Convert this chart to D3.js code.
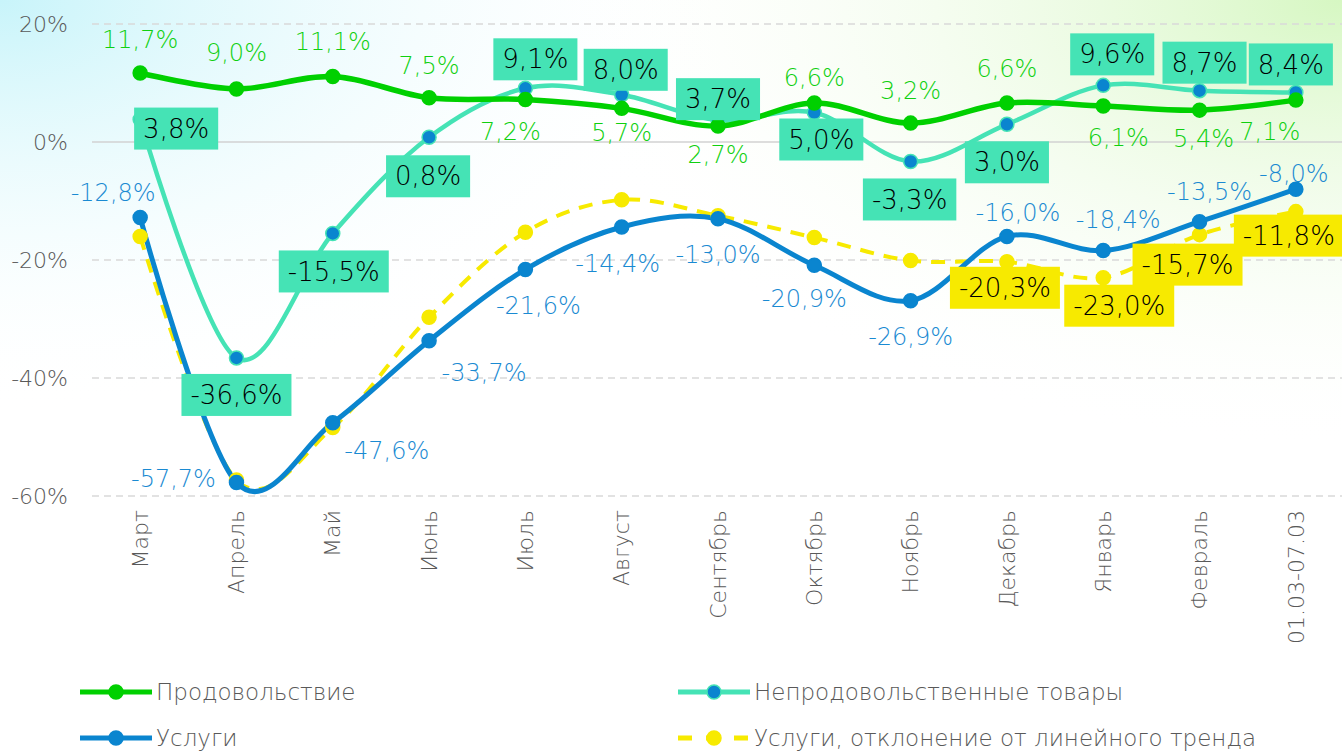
<!DOCTYPE html>
<html>
<head>
<meta charset="utf-8">
<script src="https://cdn.jsdelivr.net/npm/d3@7"></script>
<style>
  html, body { margin: 0; padding: 0; background: #fff; }
  svg { display: block; font-family: "DejaVu Sans", sans-serif; font-weight: 200; }
</style>
</head>
<body>
<div id="chart"></div>
<script>
const categories = ['Март', 'Апрель', 'Май', 'Июнь', 'Июль', 'Август', 'Сентябрь', 'Октябрь', 'Ноябрь', 'Декабрь', 'Январь', 'Февраль', '01.03-07.03'];
const food = [11.7, 9.0, 11.1, 7.5, 7.2, 5.7, 2.7, 6.6, 3.2, 6.6, 6.1, 5.4, 7.1];
const nonFood = [3.8, -36.6, -15.5, 0.8, 9.1, 8.0, 3.7, 5.0, -3.3, 3.0, 9.6, 8.7, 8.4];
const services = [-12.8, -57.7, -47.6, -33.7, -21.6, -14.4, -13.0, -20.9, -26.9, -16.0, -18.4, -13.5, -8.0];
const servicesTrend = [-16.0, -57.3, -48.4, -29.7, -15.3, -9.8, -12.5, -16.2, -20.1, -20.3, -23.0, -15.7, -11.8];
const yTicks = [20, 0, -20, -40, -60];

// label offsets (dx, dy of label centre from its point)
const foodLabelPos = [[0,-33],[0,-36],[0,-35],[0,-32],[-15,32],[0,24],[0,29],[0,-25],[0,-33],[0,-34],[15,32],[4,28],[-26,31]];
const nonFoodLabelPos = [[36,9],[0,37],[1,38],[-1,39],[10,-29],[4,-25],[0,-21],[7,27],[-1,38],[0,38],[9,-31],[5,-28],[-5,-28]];
const servicesLabelPos = [[-27,-25],[-63,-4],[54,28],[55,32],[13,36],[-4,37],[0,36],[-10,33],[0,36],[11,-24],[15,-31],[10,-30],[-2,-16]];
const trendLabelPos = [null,null,null,null,null,null,null,null,null,[-2,26],[16,28],[-12,30],[-7,24]];

const GREEN = '#00d000';
const TEAL = '#45e3b5';
const BLUE = '#0a85cf';
const YELLOW = '#f7ea00';
const GRAY = '#595959';

const width = 1342;
const height = 751;
const margin = { left: 92, right: 0, top: 24, bottom: 255 };

const svg = d3.select('#chart')
  .append('svg')
  .attr('width', width)
  .attr('height', height);

// background tint
const defs = svg.append('defs');
const g1 = defs.append('radialGradient').attr('id', 'bgCyan')
  .attr('cx', 0).attr('cy', 0).attr('r', 0.55);
g1.append('stop').attr('offset', 0).attr('stop-color', '#c8f4fa');
g1.append('stop').attr('offset', 1).attr('stop-color', '#ffffff').attr('stop-opacity', 0);
const g2 = defs.append('radialGradient').attr('id', 'bgGreen')
  .attr('cx', 1).attr('cy', 0).attr('r', 0.6);
g2.append('stop').attr('offset', 0).attr('stop-color', '#d6f7c2');
g2.append('stop').attr('offset', 1).attr('stop-color', '#ffffff').attr('stop-opacity', 0);
svg.append('rect').attr('width', width).attr('height', height).attr('fill', '#fff');
svg.append('rect').attr('width', width).attr('height', height).attr('fill', 'url(#bgCyan)');
svg.append('rect').attr('width', width).attr('height', height).attr('fill', 'url(#bgGreen)');

const x = d3.scaleBand()
  .domain(categories)
  .range([margin.left, width - margin.right + 2]);

const y = d3.scaleLinear()
  .domain([-60, 20])
  .range([height - margin.bottom, margin.top]);

const cx = d => x(d) + x.bandwidth() / 2;

// grid
svg.append('g')
  .selectAll('line')
  .data(yTicks)
  .join('line')
  .attr('x1', margin.left)
  .attr('x2', width)
  .attr('y1', d => y(d))
  .attr('y2', d => y(d))
  .attr('stroke', d => d === 0 ? '#d2d2d2' : '#d9d9d9')
  .attr('stroke-width', 1.5)
  .attr('stroke-dasharray', d => d === 0 ? null : '7,5');

// y axis
const yAxis = svg.append('g')
  .attr('transform', `translate(${margin.left - 24},0)`)
  .call(d3.axisLeft(y).tickValues(yTicks).tickSize(0).tickFormat(d => d + '%'))
  .attr('font-family', null)
  .attr('font-size', null);
yAxis.select('.domain').remove();
yAxis.selectAll('text')
  .attr('fill', GRAY)
  .attr('font-size', 22)
  .attr('dy', '0.35em')
  .attr('x', 0);

// x axis
const xAxis = svg.append('g')
  .attr('transform', `translate(0,${y(-60) + 14})`)
  .call(d3.axisBottom(x).tickSize(0))
  .attr('font-family', null)
  .attr('font-size', null);
xAxis.select('.domain').remove();
xAxis.selectAll('text')
  .attr('fill', GRAY)
  .attr('font-size', 22)
  .attr('transform', 'rotate(-90)')
  .attr('text-anchor', 'end')
  .attr('x', 0)
  .attr('y', 0)
  .attr('dy', '0.35em');

const line = d3.line()
  .x((d, i) => cx(categories[i]))
  .y(d => y(d))
  .curve(d3.curveCardinal.tension(0));

// lines
svg.append('path').datum(servicesTrend)
  .attr('d', line).attr('fill', 'none')
  .attr('stroke', YELLOW).attr('stroke-width', 4)
  .attr('stroke-dasharray', '14,10');
svg.append('path').datum(services)
  .attr('d', line).attr('fill', 'none')
  .attr('stroke', BLUE).attr('stroke-width', 5);
svg.append('path').datum(nonFood)
  .attr('d', line).attr('fill', 'none')
  .attr('stroke', TEAL).attr('stroke-width', 4.5);
svg.append('path').datum(food)
  .attr('d', line).attr('fill', 'none')
  .attr('stroke', GREEN).attr('stroke-width', 5.5);

// markers
const markers = (data, fill, stroke) => svg.append('g')
  .selectAll('circle')
  .data(data)
  .join('circle')
  .attr('cx', (d, i) => cx(categories[i]))
  .attr('cy', d => y(d))
  .attr('r', 7)
  .attr('fill', fill)
  .attr('stroke', stroke)
  .attr('stroke-width', 1.5);

markers(servicesTrend, YELLOW, YELLOW);
markers(services, BLUE, BLUE);
markers(nonFood, BLUE, TEAL);
markers(food, GREEN, GREEN);

const fmt = v => d3.format('.1f')(v).replace('.', ',').replace('\u2212', '-') + '%';

// plain labels
const plainLabels = (data, pos, color) => svg.append('g')
  .selectAll('text')
  .data(data)
  .join('text')
  .attr('x', (d, i) => cx(categories[i]) + pos[i][0])
  .attr('y', (d, i) => y(d) + pos[i][1])
  .attr('dy', '0.35em')
  .attr('text-anchor', 'middle')
  .attr('font-size', 24)
  .attr('fill', color)
  .text(fmt);

plainLabels(services, servicesLabelPos, '#1a8ad2');
plainLabels(food, foodLabelPos, '#10d010');

// boxed labels
const boxLabels = (data, pos, fill) => {
  const items = data.map((d, i) => ({ v: d, i, p: pos[i] })).filter(d => d.p);
  const g = svg.append('g')
    .selectAll('g')
    .data(items)
    .join('g')
    .attr('transform', d => `translate(${cx(categories[d.i]) + d.p[0]},${y(d.v) + d.p[1]})`);
  const txt = g.append('text')
    .attr('text-anchor', 'middle')
    .attr('dy', '0.35em')
    .attr('font-size', 26)
    .attr('fill', '#000')
    .text(d => fmt(d.v));
  txt.each(function () {
    const b = this.getBBox();
    d3.select(this.parentNode).insert('rect', 'text')
      .attr('x', b.x - 9)
      .attr('y', -21)
      .attr('width', b.width + 18)
      .attr('height', 42)
      .attr('fill', fill);
  });
};

boxLabels(nonFood, nonFoodLabelPos, TEAL);
boxLabels(servicesTrend, trendLabelPos, YELLOW);

// legend
const legendItems = [
  { name: 'Продовольствие', color: GREEN, mfill: GREEN, dash: null, x: 80, y: 692 },
  { name: 'Непродовольственные товары', color: TEAL, mfill: BLUE, dash: null, x: 678, y: 692 },
  { name: 'Услуги', color: BLUE, mfill: BLUE, dash: null, x: 80, y: 738 },
  { name: 'Услуги, отклонение от линейного тренда', color: YELLOW, mfill: YELLOW, dash: '14,14', x: 678, y: 738 }
];
const legend = svg.append('g')
  .selectAll('g')
  .data(legendItems)
  .join('g')
  .attr('transform', d => `translate(${d.x},${d.y})`);
legend.append('line')
  .attr('x1', 0).attr('x2', 72)
  .attr('stroke', d => d.color)
  .attr('stroke-width', 5)
  .attr('stroke-dasharray', d => d.dash);
legend.append('circle')
  .attr('cx', 36).attr('r', 7)
  .attr('fill', d => d.mfill)
  .attr('stroke', d => d.color)
  .attr('stroke-width', 1.5);
legend.append('text')
  .attr('x', 76)
  .attr('dy', '0.35em')
  .attr('font-size', 23)
  .attr('fill', GRAY)
  .text(d => d.name);
</script>
</body>
</html>
